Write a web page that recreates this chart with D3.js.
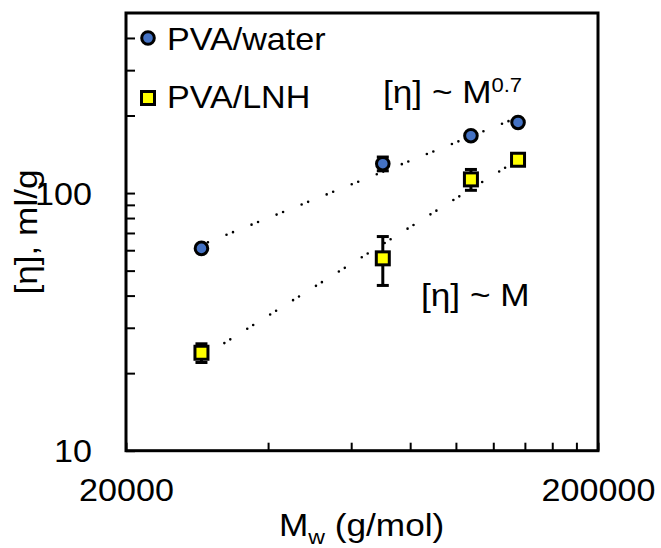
<!DOCTYPE html>
<html>
<head>
<meta charset="utf-8">
<script src="https://cdnjs.cloudflare.com/ajax/libs/d3/7.8.5/d3.min.js"></script>
<style>
body { margin: 0; background: #fff; }
text { font-family: "Liberation Sans", Arial, sans-serif; fill: #000; }
</style>
</head>
<body>
<div id="chart"></div>
<script>
// data
var mw = [28900, 70000, 107600, 135400];
var waterVals = [61, 130, 167, 188];
var waterErr = [1, 8, 3, 3];
var lnhVals = [24, 55.8, 113, 134.7];
var lnhErr = [2, 12, 10.5, 3];
var xTicks = [20000, 40000, 60000, 80000, 100000, 120000, 140000, 160000, 180000, 200000];
var xLabels = [20000, 200000];
var yTicks = [10, 20, 30, 40, 50, 60, 70, 80, 90, 100, 200, 300, 400];
var yLabels = [10, 100];

var W = 661, H = 548,
    pLeft = 126, pRight = 598, pTop = 13, pBottom = 450.7,
    stretch = 1.1;

var svg = d3.select("#chart").append("svg")
    .attr("width", W)
    .attr("height", H);

var x = d3.scaleLog().domain([20000, 200000]).range([pLeft, pRight]);
var y = d3.scaleLog().domain([10, 500]).range([pBottom, pTop]);

// the picture's text is a bit wider than the font, so widen around the anchor
function widen(sel) {
    sel.each(function() {
        var t = d3.select(this),
            tx = +t.attr("x") || 0,
            ty = +t.attr("y") || 0;
        t.attr("transform", "translate(" + tx + "," + ty + ") scale(" + stretch + ",1) translate(" + (-tx) + "," + (-ty) + ")");
    });
}

// axes, ticks point inward
var xAxis = d3.axisBottom(x)
    .tickValues(xTicks)
    .tickSize(-8)
    .tickPadding(28)
    .tickFormat(function(d) { return xLabels.indexOf(d) >= 0 ? d : ""; });

var gx = svg.append("g")
    .attr("transform", "translate(0," + pBottom + ")")
    .call(xAxis);

var yAxis = d3.axisLeft(y)
    .tickValues(yTicks)
    .tickSize(-9)
    .tickPadding(34)
    .tickFormat(function(d) { return yLabels.indexOf(d) >= 0 ? d : ""; });

var gy = svg.append("g")
    .attr("transform", "translate(" + pLeft + ",0)")
    .call(yAxis);

[gx, gy].forEach(function(g) {
    g.select(".domain").remove();
    g.selectAll(".tick line").attr("stroke", "#000").attr("stroke-width", 2);
    g.selectAll(".tick text")
        .style("font-size", "31px")
        .style("font-family", "'Liberation Sans', Arial, sans-serif")
        .attr("fill", "#000");
});
gy.selectAll(".tick text").attr("dy", "0.36em");
widen(gx.selectAll(".tick text"));
widen(gy.selectAll(".tick text"));

// frame
svg.append("rect")
    .attr("x", pLeft)
    .attr("y", pTop)
    .attr("width", pRight - pLeft)
    .attr("height", pBottom - pTop)
    .attr("fill", "none")
    .attr("stroke", "#000")
    .attr("stroke-width", 3);

// power-law trend lines, fitted on log-log
function powerFit(xs, ys) {
    var lx = xs.map(Math.log10), ly = ys.map(Math.log10),
        mx = d3.mean(lx), my = d3.mean(ly),
        b = d3.sum(lx, function(v, i) { return (v - mx) * (ly[i] - my); }) /
            d3.sum(lx, function(v) { return (v - mx) * (v - mx); }),
        a = my - b * mx;
    return function(v) { return Math.pow(10, a + b * Math.log10(v)); };
}

var trendLine = d3.line()
    .x(function(d) { return x(d[0]); })
    .y(function(d) { return y(d[1]); });

[waterVals, lnhVals].forEach(function(vals) {
    var f = powerFit(mw, vals),
        ends = d3.extent(mw),
        pts = ends.map(function(v) { return [v, f(v)]; });
    svg.append("path")
        .attr("d", trendLine(pts))
        .attr("fill", "none")
        .attr("stroke", "#000")
        .attr("stroke-width", 2.6)
        .attr("stroke-linecap", "round")
        .attr("stroke-dasharray", "0 7 0 20");
});

// error bars
function errorBars(vals, errs) {
    var g = svg.append("g").attr("stroke", "#000").attr("stroke-width", 3);
    vals.forEach(function(v, i) {
        var cx = x(mw[i]), y0 = y(v - errs[i]), y1 = y(v + errs[i]);
        g.append("line").attr("x1", cx).attr("x2", cx).attr("y1", y0).attr("y2", y1);
        g.append("line").attr("x1", cx - 6).attr("x2", cx + 6).attr("y1", y0).attr("y2", y0);
        g.append("line").attr("x1", cx - 6).attr("x2", cx + 6).attr("y1", y1).attr("y2", y1);
    });
}
errorBars(waterVals, waterErr);
errorBars(lnhVals, lnhErr);

// markers
svg.append("g").selectAll("circle")
    .data(waterVals)
    .enter()
    .append("circle")
    .attr("cx", function(d, i) { return x(mw[i]); })
    .attr("cy", function(d) { return y(d); })
    .attr("r", 6.3)
    .attr("fill", "#4472C4")
    .attr("stroke", "#000")
    .attr("stroke-width", 3);

svg.append("g").selectAll("rect")
    .data(lnhVals)
    .enter()
    .append("rect")
    .attr("x", function(d, i) { return x(mw[i]) - 6.5; })
    .attr("y", function(d) { return y(d) - 6.5; })
    .attr("width", 13)
    .attr("height", 13)
    .attr("fill", "#FFFF00")
    .attr("stroke", "#000")
    .attr("stroke-width", 3);

// legend
svg.append("circle")
    .attr("cx", 148).attr("cy", 38).attr("r", 6.3)
    .attr("fill", "#4472C4").attr("stroke", "#000").attr("stroke-width", 3);
svg.append("rect")
    .attr("x", 141.5).attr("y", 91.5).attr("width", 13).attr("height", 13)
    .attr("fill", "#FFFF00").attr("stroke", "#000").attr("stroke-width", 3);

var legendText = svg.append("g").style("font-size", "31px");
legendText.append("text").attr("x", 167).attr("y", 50).text("PVA/water");
legendText.append("text").attr("x", 167).attr("y", 108).text("PVA/LNH");
widen(legendText.selectAll("text"));

// annotations
var ann1 = svg.append("text")
    .attr("x", 383).attr("y", 103)
    .style("font-size", "32px");
ann1.append("tspan").text("[η] ~ M");
ann1.append("tspan").attr("dy", -11).style("font-size", "20px").text("0.7");

var ann2 = svg.append("text")
    .attr("x", 421).attr("y", 306)
    .style("font-size", "32px")
    .text("[η] ~ M");
widen(ann1);
widen(ann2);

// axis titles
var xTitle = svg.append("text")
    .attr("x", 279).attr("y", 536)
    .style("font-size", "32px");
xTitle.append("tspan").text("M");
xTitle.append("tspan").attr("dy", 8).style("font-size", "21px").text("w");
xTitle.append("tspan").attr("dy", -8).text(" (g/mol)");
widen(xTitle);

svg.append("text")
    .attr("transform", "translate(37,232) rotate(-90) scale(1.1,1)")
    .attr("text-anchor", "middle")
    .style("font-size", "32px")
    .text("[η], ml/g");
</script>
</body>
</html>
